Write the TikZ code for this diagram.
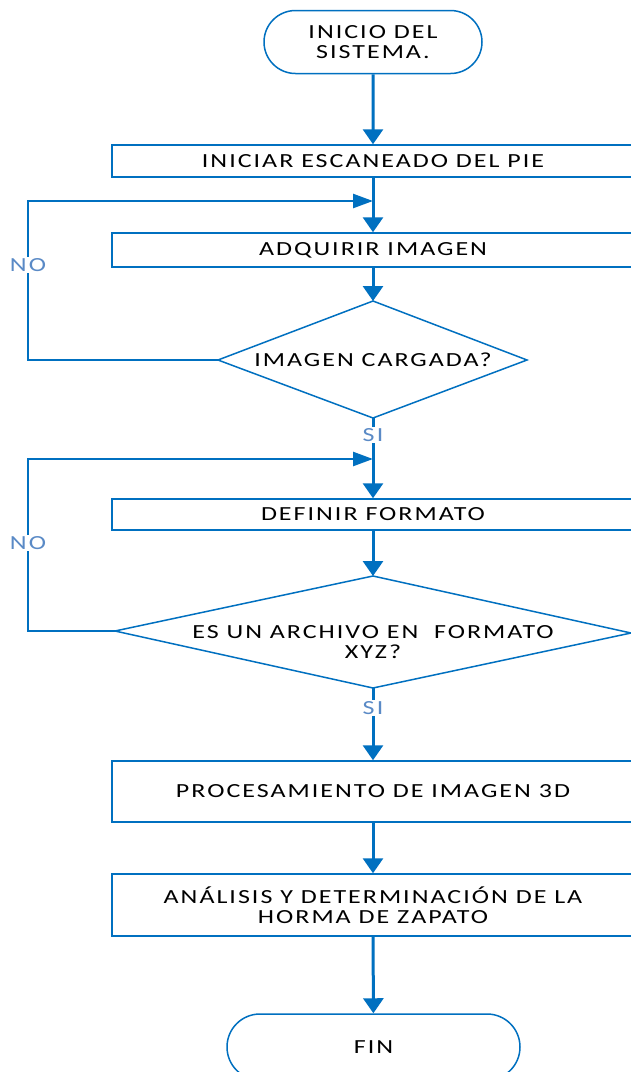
\documentclass[tikz,border=0pt]{standalone}
\usepackage{fontspec}
\setmainfont{Carlito}
\usetikzlibrary{shapes.misc,arrows.meta}
\definecolor{lblue}{HTML}{0070C0}
\definecolor{lbl}{HTML}{5A8AC6}
\tikzset{
  txt/.style={align=center,inner sep=0pt,
    font=\fontsize{20}{20}\selectfont\addfontfeature{FakeStretch=1.3,LetterSpace=10}},
  base/.style={txt,draw=lblue,line width=1.5pt,fill=white},
  procbox/.style={base,rectangle,minimum width=522pt},
  term/.style={base,rounded rectangle},
  shapeline/.style={draw=lblue,line width=1.5pt,fill=white},
  flow/.style={draw=lblue,line width=3pt,-{Triangle[width=20pt,length=15pt]}},
  loopline/.style={draw=lblue,line width=2.5pt,-{Triangle[width=14pt,length=20pt]}},
  lab/.style={fill=white,text=lbl,inner sep=1.5pt,
    font=\fontsize{20}{20}\selectfont\addfontfeature{FakeStretch=1.3,LetterSpace=12}}
}
\begin{document}
\begin{tikzpicture}[x=1pt,y=-1pt]
\clip (0,0) rectangle (631,1072);
\fill[white] (0,0) rectangle (631,1072);
% diamonds
\coordinate (d1n) at (373,301); \coordinate (d1s) at (373,418);
\coordinate (d1w) at (218,360); \coordinate (d1e) at (527,360);
\draw[shapeline] (d1n) -- (d1e) -- (d1s) -- (d1w) -- cycle;
\coordinate (d2n) at (373,576); \coordinate (d2s) at (373,688);
\coordinate (d2w) at (115,631); \coordinate (d2e) at (631,633);
\draw[shapeline] (d2n) -- (d2e) -- (d2s) -- (d2w) -- cycle;
\node[txt] (d1) at (373,360) {IMAGEN CARGADA?};
\node[txt] (d2) at (373,642) {ES UN ARCHIVO EN \ FORMATO\\XYZ?};
\node[term,minimum width=218pt,minimum height=63pt] (start) at (373,42) {INICIO DEL\\SISTEMA.};
\node[procbox,minimum height=32pt] (b1) at (373,161) {INICIAR ESCANEADO DEL PIE};
\node[procbox,minimum height=34pt] (b2) at (373,250) {ADQUIRIR IMAGEN};
\node[procbox,minimum height=31pt] (b3) at (373,514.5) {DEFINIR FORMATO};
\node[procbox,minimum height=61pt] (b4) at (373,791.5) {PROCESAMIENTO DE IMAGEN 3D};
\node[procbox,minimum height=62pt] (b5) at (373,905) {ANÁLISIS Y DETERMINACIÓN DE LA\\HORMA DE ZAPATO};
\node[term,minimum width=293pt,minimum height=66pt] (fin) at (373.5,1047) {FIN};
\coordinate (j1) at (373,201);
\coordinate (j2) at (373,459);
\coordinate (c1) at (28,360);
\coordinate (c2) at (28,631);
\draw[flow] (start) -- (b1);
\draw[flow] (b1) -- (b2);
\draw[flow] (b2) -- (d1n);
\draw[flow] (d1s) -- (b3);
\node[lab] (si1) at (373,435) {SI};
\draw[flow] (b3) -- (d2n);
\draw[flow] (d2s) -- (b4);
\node[lab] (si2) at (373,708) {SI};
\draw[flow] (b4) -- (b5);
\draw[flow] (b5) -- (fin);
\draw[loopline] (d1w) -- (c1) -- (c1 |- j1) -- (j1);
\node[lab] (no1) at (28,265) {NO};
\draw[loopline] (d2w) -- (c2) -- (c2 |- j2) -- (j2);
\node[lab] (no2) at (28,543) {NO};
\end{tikzpicture}
\end{document}
